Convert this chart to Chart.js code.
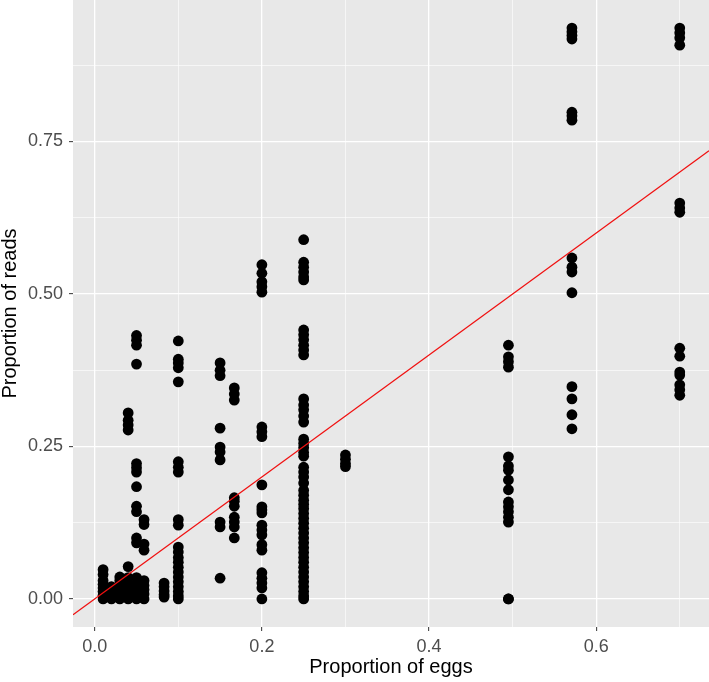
<!DOCTYPE html>
<html>
<head>
<meta charset="utf-8">
<script src="https://cdn.jsdelivr.net/npm/chart.js@4"></script>
<style>
	body { margin: 0; background: #fff; }
	canvas { display: block; }
</style>
</head>
<body>
<canvas id="chart" width="709" height="682"></canvas>
<script>
// egg proportion of each sample group (x) and the read proportions observed for it (y)
const eggLevels = [0.01, 0.02, 0.03, 0.04, 0.05, 0.059, 0.083, 0.1, 0.15, 0.167, 0.2, 0.25, 0.3, 0.495, 0.571, 0.7];

const readsByLevel = [
	[0.048, 0.04, 0.03, 0.024, 0.018, 0.012, 0.006, 0.0],
	[0.02, 0.014, 0.008, 0.003, 0.0],
	[0.036, 0.03, 0.022, 0.015, 0.008, 0.0],
	[0.305, 0.293, 0.285, 0.277, 0.053, 0.035, 0.025, 0.015, 0.006, 0.0],
	[0.432, 0.424, 0.416, 0.385, 0.222, 0.215, 0.208, 0.184, 0.152, 0.143, 0.1, 0.092, 0.035, 0.025, 0.018, 0.01, 0.003, 0.0],
	[0.13, 0.122, 0.09, 0.08, 0.03, 0.022, 0.015, 0.008, 0.0],
	[0.026, 0.02, 0.013, 0.007, 0.003],
	[0.423, 0.393, 0.387, 0.379, 0.356, 0.225, 0.216, 0.208, 0.13, 0.121, 0.085, 0.077, 0.068, 0.06, 0.052, 0.044, 0.036, 0.028, 0.02, 0.012, 0.005, 0.0],
	[0.387, 0.375, 0.366, 0.28, 0.249, 0.241, 0.228, 0.126, 0.118, 0.034],
	[0.346, 0.336, 0.326, 0.166, 0.16, 0.152, 0.134, 0.126, 0.118, 0.1],
	[0.548, 0.534, 0.52, 0.512, 0.503, 0.282, 0.274, 0.266, 0.187, 0.151, 0.146, 0.141, 0.121, 0.113, 0.105, 0.089, 0.08, 0.043, 0.034, 0.026, 0.018, 0.0],
	[0.589, 0.552, 0.544, 0.536, 0.528, 0.523, 0.441, 0.433, 0.425, 0.416, 0.408, 0.4, 0.328, 0.318, 0.31, 0.3, 0.29,
		0.262, 0.255, 0.248, 0.24, 0.234, 0.216, 0.208, 0.2, 0.19, 0.178, 0.17, 0.162, 0.155, 0.148, 0.14, 0.132, 0.124,
		0.116, 0.108, 0.1, 0.092, 0.084, 0.076, 0.068, 0.06, 0.052, 0.044, 0.036, 0.028, 0.02, 0.012, 0.005, 0.0],
	[0.236, 0.229, 0.222, 0.217],
	[0.416, 0.397, 0.389, 0.38, 0.233, 0.218, 0.211, 0.195, 0.179, 0.159, 0.151, 0.143, 0.134, 0.126, 0.0, 0.0],
	[0.936, 0.93, 0.924, 0.918, 0.798, 0.792, 0.785, 0.559, 0.544, 0.536, 0.502, 0.348, 0.328, 0.302, 0.279],
	[0.936, 0.928, 0.92, 0.908, 0.649, 0.641, 0.634, 0.411, 0.398, 0.372, 0.367, 0.351, 0.343, 0.334],
];

const xTickValues = [0, 0.1, 0.2, 0.3, 0.4, 0.5, 0.6, 0.7];
const yTickValues = [0, 0.125, 0.25, 0.375, 0.5, 0.625, 0.75, 0.875];

const xMin = -0.026;
const xMax = 0.735;
const yMin = -0.046;
const yMax = 0.982;

const points = [];
eggLevels.forEach((egg, i) => {
	readsByLevel[i].forEach(r => points.push({ x: egg, y: r }));
});

const isMajorX = v => Math.round(v * 10) % 2 === 0;
const isMajorY = v => Math.round(v * 8) % 2 === 0;

const panelBackground = {
	id: 'panelBackground',
	beforeDraw(chart) {
		const { ctx, chartArea } = chart;
		ctx.save();
		ctx.fillStyle = '#E8E8E8';
		ctx.fillRect(chartArea.left, chartArea.top, chartArea.right - chartArea.left, chartArea.bottom - chartArea.top);
		ctx.restore();
	},
};

const tickFont = { family: "'Liberation Sans', Arial, sans-serif", size: 18 };
const titleFont = { family: "'Liberation Sans', Arial, sans-serif", size: 20, lineHeight: 1 };

new Chart(document.getElementById('chart'), {
	type: 'scatter',
	data: {
		datasets: [
			{
				data: [{ x: xMin, y: xMin }, { x: xMax, y: xMax }],
				type: 'line',
				borderColor: '#F01010',
				borderWidth: 1.3,
				pointRadius: 0,
				order: 0,
			},
			{
				data: points,
				backgroundColor: '#000000',
				borderColor: '#000000',
				pointRadius: 5.4,
				borderWidth: 0,
				order: 1,
			},
		],
	},
	options: {
		responsive: false,
		animation: false,
		layout: { padding: 0, autoPadding: false },
		plugins: {
			legend: { display: false },
			tooltip: { enabled: false },
		},
		scales: {
			x: {
				type: 'linear',
				min: xMin,
				max: xMax,
				afterBuildTicks: scale => { scale.ticks = xTickValues.map(v => ({ value: v })); },
				afterFit: scale => {
					scale.height = 55;
					scale.paddingLeft = 0;
					scale.paddingRight = 0;
				},
				border: { display: false },
				grid: {
					color: '#FFFFFF',
					lineWidth: ctx => isMajorX(ctx.tick.value) ? 1.3 : 0.6,
					tickLength: 4,
					tickWidth: 1,
					tickColor: ctx => isMajorX(ctx.tick.value) ? '#333333' : 'rgba(0,0,0,0)',
				},
				ticks: {
					color: '#4D4D4D',
					font: tickFont,
					padding: 5,
					maxRotation: 0,
					autoSkip: false,
					callback: v => isMajorX(v) ? v.toFixed(1) : '',
				},
				title: {
					display: true,
					text: 'Proportion of eggs',
					color: '#000000',
					font: titleFont,
					padding: { top: 0, bottom: 5 },
				},
			},
			y: {
				type: 'linear',
				min: yMin,
				max: yMax,
				afterBuildTicks: scale => { scale.ticks = yTickValues.map(v => ({ value: v })); },
				afterFit: scale => {
					scale.width = 73;
					scale.paddingTop = 0;
					scale.paddingBottom = 0;
				},
				border: { display: false },
				grid: {
					color: '#FFFFFF',
					lineWidth: ctx => isMajorY(ctx.tick.value) ? 1.3 : 0.6,
					tickLength: 4,
					tickWidth: 1,
					tickColor: ctx => isMajorY(ctx.tick.value) ? '#333333' : 'rgba(0,0,0,0)',
				},
				ticks: {
					color: '#4D4D4D',
					font: tickFont,
					padding: 6,
					autoSkip: false,
					callback: v => isMajorY(v) ? v.toFixed(2) : '',
				},
				title: {
					display: true,
					text: 'Proportion of reads',
					color: '#000000',
					font: titleFont,
					padding: { top: 0, bottom: 0 },
				},
			},
		},
	},
	plugins: [panelBackground],
});
</script>
</body>
</html>
